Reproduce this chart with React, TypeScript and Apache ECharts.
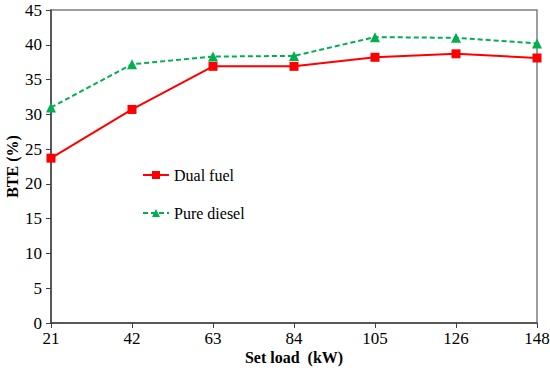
import React, { useEffect, useRef } from "react";
import * as echarts from "echarts";

const categories = ["21", "42", "63", "84", "105", "126", "148"];
const dualFuel = [23.7, 30.7, 36.9, 36.9, 38.2, 38.7, 38.1];
const pureDiesel = [31.0, 37.2, 38.3, 38.4, 41.1, 41.0, 40.2];

export default function App() {
  const ref = useRef<HTMLDivElement>(null);
  useEffect(() => {
    const chart = echarts.init(ref.current!, null, { renderer: "svg" });
    const font = "Liberation Serif";
    chart.setOption({
      animation: false,
      textStyle: { fontFamily: font },
      grid: {
        left: 51, right: 13, top: 10, bottom: 48,
        outerBoundsMode: "none",
        containLabel: false,
        show: true, borderColor: "#7f7f7f", borderWidth: 1.5,
      },
      legend: {
        orient: "vertical",
        left: 137, top: 162,
        itemGap: 22,
        itemWidth: 26, itemHeight: 10,
        textStyle: { fontFamily: font, fontSize: 16, color: "#000" },
        data: ["Dual fuel", "Pure diesel"],
      },
      xAxis: {
        type: "category",
        data: categories,
        boundaryGap: false,
        name: "Set load  (kW)",
        nameLocation: "middle",
        nameGap: 26,
        nameMoveOverlap: false,
        nameTextStyle: { fontFamily: font, fontSize: 16, fontWeight: "bold", color: "#000" },
        axisLine: { lineStyle: { color: "#404040", width: 1.5 } },
        axisTick: { show: true, inside: false, length: 5, alignWithLabel: true, lineStyle: { color: "#404040" } },
        axisLabel: { fontFamily: font, fontSize: 17, color: "#000", margin: 7 },
        splitLine: { show: false },
      },
      yAxis: {
        type: "value",
        min: 0, max: 45, interval: 5,
        name: "BTE (%)",
        nameLocation: "middle",
        nameGap: 31,
        nameMoveOverlap: false,
        nameTextStyle: { fontFamily: font, fontSize: 16, fontWeight: "bold", color: "#000" },
        axisLine: { show: true, lineStyle: { color: "#404040", width: 1.5 } },
        axisTick: { show: true, length: 5, lineStyle: { color: "#404040" } },
        axisLabel: { fontFamily: font, fontSize: 17, color: "#000", margin: 9 },
        splitLine: { show: false },
      },
      series: [
        {
          name: "Dual fuel",
          type: "line",
          data: dualFuel,
          symbol: "rect",
          symbolSize: 9,
          itemStyle: { color: "#ff0000" },
          lineStyle: { color: "#ff0000", width: 2 },
        },
        {
          name: "Pure diesel",
          type: "line",
          data: pureDiesel,
          symbol: "triangle",
          symbolSize: 10,
          itemStyle: { color: "#00b050" },
          lineStyle: { color: "#00b050", width: 2, type: [5, 3] },
        },
      ],
    });
    return () => chart.dispose();
  }, []);
  return <div ref={ref} style={{ width: 550, height: 371, position: "absolute", left: 0, top: 0 }} />;
}
